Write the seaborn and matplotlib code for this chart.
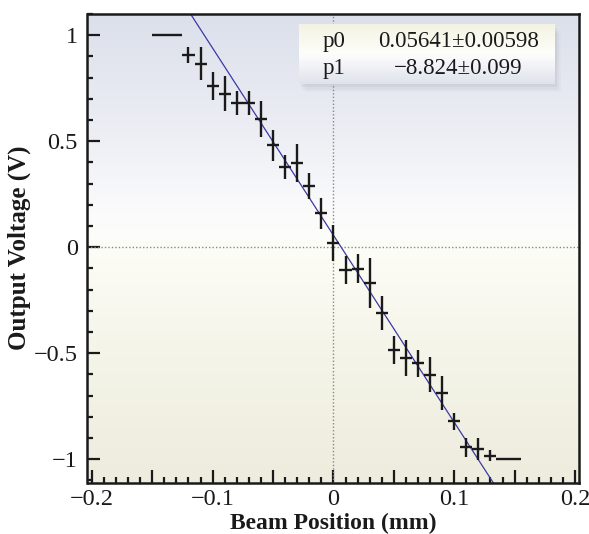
import numpy as np
import matplotlib
matplotlib.use("Agg")
import matplotlib.pyplot as plt
import seaborn as sns
import pandas as pd
from matplotlib.colors import LinearSegmentedColormap
from matplotlib.ticker import MultipleLocator, FuncFormatter
from matplotlib.patches import Rectangle

# ---------------- data ----------------
pos_mm = [-0.1375, -0.12, -0.11, -0.10, -0.09, -0.08, -0.07, -0.06, -0.05, -0.04,
          -0.03, -0.02, -0.01, 0.00, 0.01, 0.02, 0.03, 0.04, 0.05, 0.06,
          0.07, 0.08, 0.09, 0.10, 0.11, 0.12, 0.13, 0.145]
pos_halfwidth = [0.0125, 0.005, 0.005, 0.005, 0.005, 0.005, 0.005, 0.005, 0.005, 0.005,
                 0.005, 0.005, 0.005, 0.005, 0.005, 0.005, 0.005, 0.005, 0.005, 0.005,
                 0.005, 0.005, 0.005, 0.005, 0.005, 0.005, 0.005, 0.010]
voltage = [1.00, 0.905, 0.866, 0.760, 0.724, 0.679, 0.679, 0.606, 0.480, 0.378,
           0.397, 0.289, 0.160, 0.020, -0.108, -0.102, -0.167, -0.311, -0.485, -0.522,
           -0.548, -0.601, -0.688, -0.822, -0.944, -0.952, -0.983, -1.00]
voltage_err = [0.0, 0.038, 0.079, 0.065, 0.082, 0.057, 0.057, 0.084, 0.075, 0.057,
               0.091, 0.060, 0.073, 0.085, 0.065, 0.068, 0.118, 0.080, 0.068, 0.085,
               0.063, 0.082, 0.080, 0.039, 0.046, 0.050, 0.026, 0.0]
fit_names = ["p0", "p1"]
fit_values = ["0.05641\u00b10.00598", "\u22128.824\u00b10.099"]
p0, p1 = 0.05641, -8.824

df = pd.DataFrame({"x": pos_mm, "xerr": pos_halfwidth, "y": voltage, "yerr": voltage_err})

# ---------------- style ----------------
sns.set_theme(style="ticks")
plt.rcParams["font.family"] = ["Liberation Serif", "DejaVu Serif"]
plt.rcParams["axes.unicode_minus"] = True

W, H = 589, 534
fig = plt.figure(figsize=(W / 100, H / 100), dpi=100)
fig.patch.set_facecolor("white")
ax = fig.add_axes([87.5 / W, 1 - 482.5 / H, (579 - 87.5) / W, (482.5 - 14) / H])

xlim = (-0.2036, 0.2033)
ylim = (-1.11, 1.10)
ax.set_xlim(*xlim)
ax.set_ylim(*ylim)

# background gradient
bg = LinearSegmentedColormap.from_list("bg", [
    (0.00, "#edecdd"),
    (0.30, "#f5f5ea"),
    (0.50, "#fdfdf7"),
    (0.58, "#fbfbfc"),
    (0.75, "#eceef4"),
    (1.00, "#dce0eb"),
])
grad = np.linspace(0, 1, 256).reshape(-1, 1)
ax.imshow(grad, extent=(xlim[0], xlim[1], ylim[0], ylim[1]), origin="lower",
          aspect="auto", cmap=bg, zorder=0)

# dotted zero lines
ax.axhline(0, color="#888888", lw=1.0, ls=(0, (1, 1.5)), zorder=1)
ax.axvline(0, color="#888888", lw=1.0, ls=(0, (1, 1.5)), zorder=1)

# fit line
fx = np.linspace(xlim[0], xlim[1], 200)
fit_df = pd.DataFrame({"x": fx, "y": p0 + p1 * fx})
sns.lineplot(data=fit_df, x="x", y="y", ax=ax, color="#3a3aa8", lw=0.9, zorder=3)

# data crosses
ax.errorbar(df["x"], df["y"], xerr=df["xerr"], yerr=df["yerr"], fmt="none",
            ecolor="#1a1a1a", elinewidth=1.7, capsize=0, zorder=4)

ax.set_xlim(*xlim)
ax.set_ylim(*ylim)

# ticks
ax.xaxis.set_major_locator(MultipleLocator(0.05))
ax.xaxis.set_minor_locator(MultipleLocator(0.01))
ax.yaxis.set_major_locator(MultipleLocator(0.5))
ax.yaxis.set_minor_locator(MultipleLocator(0.1))

def fmt_x(v, pos):
    k = int(round(v * 100))
    if k % 10 != 0:
        return ""
    if k == 0:
        return "0"
    return f"{v:.1f}".replace("-", "\u2212")

def fmt_y(v, pos):
    if abs(v) < 1e-9:
        return "0"
    if abs(v - round(v)) < 1e-9:
        return f"{int(round(v))}".replace("-", "\u2212")
    return f"{v:.1f}".replace("-", "\u2212")

ax.xaxis.set_major_formatter(FuncFormatter(fmt_x))
ax.yaxis.set_major_formatter(FuncFormatter(fmt_y))
ax.tick_params(axis="both", which="both", bottom=True, left=True, top=False, right=False)
ax.tick_params(axis="both", which="major", direction="in", length=9.5, width=1.6,
               color="#1a1a1a", labelsize=17.5, labelcolor="#1a1a1a")
ax.tick_params(axis="both", which="minor", direction="in", length=4.5, width=1.6,
               color="#1a1a1a")
ax.tick_params(axis="x", which="major", pad=5)
ax.tick_params(axis="y", which="major", pad=7)

for s in ax.spines.values():
    s.set_visible(True)
    s.set_color("#1a1a1a")
    s.set_linewidth(1.8)
    s.set_zorder(6)

ax.set_xlabel("Beam Position (mm)", fontsize=17, fontweight="bold", color="#1a1a1a",
              labelpad=2)
ax.set_ylabel("Output Voltage (V)", fontsize=18, fontweight="bold", color="#1a1a1a",
              labelpad=2)

# stats box
bx0, bx1 = (299 - 333.3) / 1208, (555 - 333.3) / 1208
by1, by0 = (246.7 - 25) / 211.8, (246.7 - 84) / 211.8
sx, sy = 3 / 1208, 3 / 211.8
for i, a in enumerate([0.10, 0.07, 0.04]):
    d = (i + 1)
    ax.add_patch(Rectangle((bx0 + sx * d * 0.6, by0 - sy * d * 0.9), bx1 - bx0, by1 - by0,
                           facecolor="#808090", alpha=a, lw=0, zorder=7))
box_cmap = LinearSegmentedColormap.from_list("box", [
    (0.0, "#dfe2ec"), (0.45, "#fbfbfc"), (0.55, "#fdfdf8"), (1.0, "#f3f3e3")])
ax.imshow(grad, extent=(bx0, bx1, by0, by1), origin="lower", aspect="auto",
          cmap=box_cmap, zorder=8)
ax.set_xlim(*xlim)
ax.set_ylim(*ylim)

row_y = [(246.7 - 41) / 211.8, (246.7 - 68) / 211.8]
name_x = (322 - 333.3) / 1208
val_x = (458 - 333.3) / 1208
for nm, val, yy in zip(fit_names, fit_values, row_y):
    ax.text(name_x, yy, nm, fontsize=16.5, color="#1a1a1a", ha="left", va="center", zorder=9)
    ax.text(val_x, yy, val, fontsize=16.5, color="#1a1a1a", ha="center", va="center", zorder=9)

fig.savefig("out.png", dpi=100, facecolor="white")
